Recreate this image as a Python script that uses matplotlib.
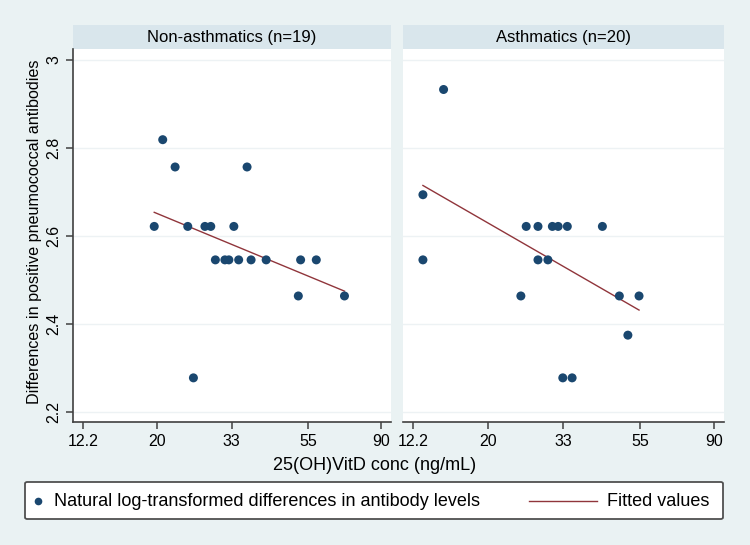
import matplotlib
matplotlib.use("Agg")
import matplotlib.pyplot as plt
from matplotlib.patches import Rectangle, FancyBboxPatch
from matplotlib.lines import Line2D

plt.rcParams['font.family'] = ['Liberation Sans', 'DejaVu Sans']

# data
non_x = [19.65, 20.8, 22.6, 24.6, 25.55, 27.6, 28.7, 29.6, 31.55, 32.4,
         33.5, 34.6, 36.6, 37.6, 41.6, 51.6, 52.4, 58.2, 70.3]
non_y = [2.622, 2.819, 2.757, 2.622, 2.278, 2.622, 2.622, 2.546, 2.546, 2.546,
         2.622, 2.546, 2.757, 2.546, 2.546, 2.464, 2.546, 2.546, 2.464]
non_fit_x = [19.65, 70.3]
non_fit_y = [2.654, 2.475]

ast_x = [12.99, 12.99, 14.9, 24.9, 25.8, 27.9, 27.9, 29.8, 30.7, 31.9,
         32.9, 33.9, 35.0, 42.8, 47.9, 50.7, 54.6]
ast_y = [2.694, 2.546, 2.933, 2.464, 2.622, 2.622, 2.546, 2.546, 2.622, 2.622,
         2.278, 2.622, 2.278, 2.622, 2.464, 2.375, 2.464]
ast_fit_x = [12.99, 54.6]
ast_fit_y = [2.715, 2.432]

xticks = [12.2, 20, 33, 55, 90]
xtick_labels = ['12.2', '20', '33', '55', '90']
yticks = [2.2, 2.4, 2.6, 2.8, 3.0]
ytick_labels = ['2.2', '2.4', '2.6', '2.8', '3']
titles = ['Non-asthmatics (n=19)', 'Asthmatics (n=20)']

bg = '#eaf2f3'
strip = '#d9e6ec'
navy = '#1a476f'
maroon = '#90353b'
axis_col = '#404040'

fig = plt.figure(figsize=(7.5, 5.45), dpi=100, facecolor=bg)
ax1 = fig.add_axes([0.0973, 0.2251, 0.424, 0.685])
ax2 = fig.add_axes([0.5377, 0.2251, 0.4276, 0.685])

panels = [(ax1, non_x, non_y, non_fit_x, non_fit_y),
          (ax2, ast_x, ast_y, ast_fit_x, ast_fit_y)]

for i, (ax, x, y, fx, fy) in enumerate(panels):
    ax.set_facecolor('white')
    ax.set_xscale('log')
    ax.set_xlim(11.4, 96)
    ax.set_ylim(2.177, 3.025)
    ax.set_xticks(xticks)
    ax.set_xticklabels(xtick_labels)
    ax.minorticks_off()
    ax.set_yticks(yticks)
    ax.grid(axis='y', color='#edf2f4', linewidth=1.0)
    ax.set_axisbelow(True)
    ax.plot(fx, fy, color=maroon, linewidth=1.0, zorder=2)
    ax.scatter(x, y, s=42, color=navy, edgecolors='none', zorder=3)
    for s in ['top', 'right']:
        ax.spines[s].set_visible(False)
    ax.spines['bottom'].set_color(axis_col)
    ax.spines['bottom'].set_linewidth(1.2)
    ax.tick_params(axis='x', colors=axis_col, labelcolor='black',
                   labelsize=11.5, length=5, width=1.1, direction='out')
    if i == 0:
        ax.spines['left'].set_color(axis_col)
        ax.spines['left'].set_linewidth(1.2)
        ax.set_yticklabels(ytick_labels, rotation=90, va='center')
        ax.tick_params(axis='y', colors=axis_col, labelcolor='black',
                       labelsize=11.5, length=5, width=1.1)
    else:
        ax.spines['left'].set_visible(False)
        ax.tick_params(axis='y', left=False, labelleft=False)
    # strip header
    ax.add_patch(Rectangle((0, 1.0), 1, 0.0643, transform=ax.transAxes,
                           facecolor=strip, edgecolor='none', clip_on=False))
    ax.text(0.5, 1.032, titles[i], transform=ax.transAxes, ha='center',
            va='center', fontsize=12)

fig.text(35 / 750, 1 - 232 / 545, 'Differences in positive pneumococcal antibodies',
         rotation=90, ha='center', va='center', fontsize=11.6)
fig.text(375 / 750, 1 - 466 / 545, '25(OH)VitD conc (ng/mL)',
         ha='center', va='center', fontsize=13)

# legend box
fig.add_artist(FancyBboxPatch((25 / 750, 1 - 519 / 545), 698 / 750, 37 / 545,
                              boxstyle='round,pad=0,rounding_size=0.003',
                              transform=fig.transFigure, facecolor='white',
                              edgecolor='#505050', linewidth=1.3))
ly = 1 - 501 / 545
fig.add_artist(Line2D([38 / 750], [ly], marker='o', markersize=5.5, color=navy,
                      markeredgecolor='none', transform=fig.transFigure))
fig.text(54 / 750, ly, 'Natural log-transformed differences in antibody levels',
         ha='left', va='center', fontsize=13)
fig.add_artist(Line2D([529 / 750, 597 / 750], [ly, ly], color=maroon, linewidth=1.0,
                      transform=fig.transFigure))
fig.text(607 / 750, ly, 'Fitted values', ha='left', va='center', fontsize=13)

fig.savefig('out.png', dpi=100, facecolor=bg)
